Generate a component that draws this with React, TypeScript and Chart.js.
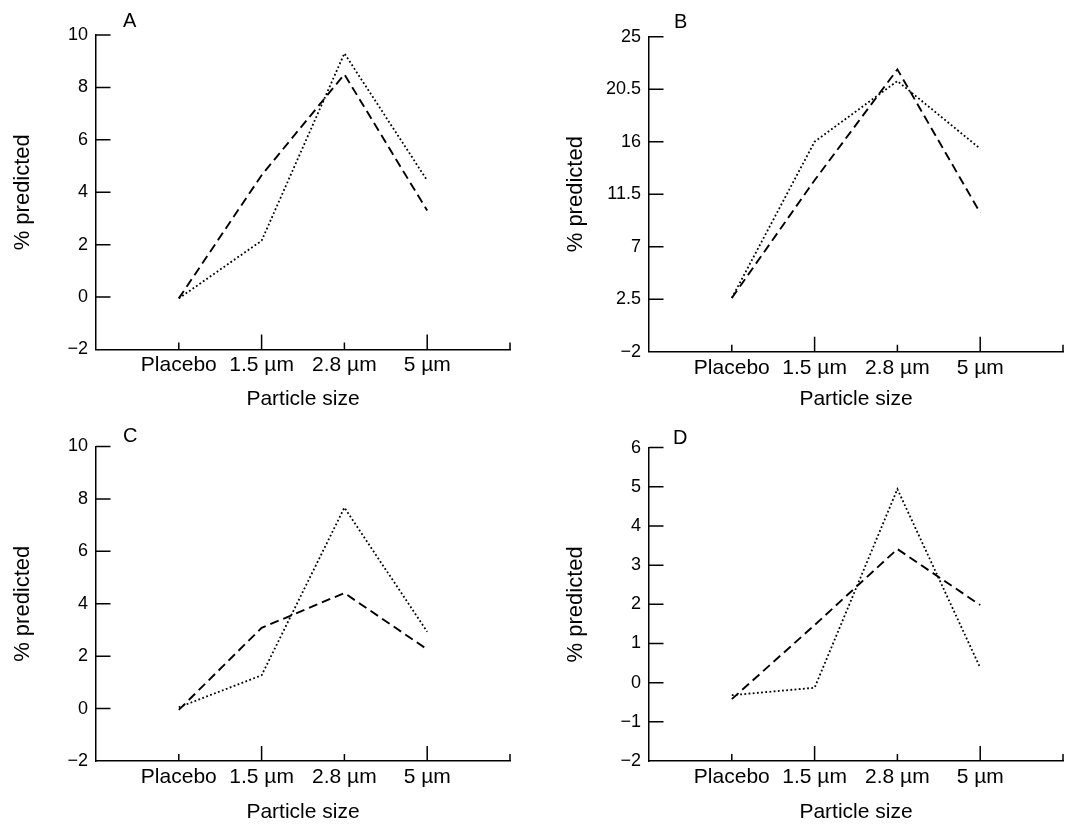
import React, { useEffect, useRef } from 'react';
import { Chart, registerables } from 'chart.js';

Chart.register(...registerables);

// ---- data ----
const categories = ['Placebo', '1.5 µm', '2.8 µm', '5 µm'];
const xPositions = [1, 2, 3, 4];
const xTickValues = [0, 1, 2, 3, 4, 5];

const dashedA = [-0.05, 4.65, 8.5, 3.3];
const dottedA = [-0.05, 2.15, 9.3, 4.45];
const dashedB = [2.6, 12.7, 22.2, 9.9];
const dottedB = [2.6, 16.0, 21.2, 15.4];
const dashedC = [-0.05, 3.08, 4.41, 2.26];
const dottedC = [0.05, 1.27, 7.67, 2.93];
const dashedD = [-0.42, 1.47, 3.41, 1.98];
const dottedD = [-0.32, -0.13, 4.94, 0.38];

const yTicksA = [-2, 0, 2, 4, 6, 8, 10];
const yTicksB = [-2, 2.5, 7, 11.5, 16, 20.5, 25];
const yTicksC = [-2, 0, 2, 4, 6, 8, 10];
const yTicksD = [-2, -1, 0, 1, 2, 3, 4, 5, 6];

const letters = ['A', 'B', 'C', 'D'];
const yTitle = '% predicted';
const xTitle = 'Particle size';

// ---- styling / layout ----
const INK = '#000';
const FONT = '"Liberation Sans", Arial, Helvetica, sans-serif';

type PanelCfg = {
  letter: string;
  dashed: number[];
  dotted: number[];
  yTicks: number[];
  left: number;
  top: number;
  w: number;
  h: number;
  padTop: number;
  axisH: number;
  dx: number;
  dy: number;
};

const panels: PanelCfg[] = [
  { letter: letters[0], dashed: dashedA, dotted: dottedA, yTicks: yTicksA, left: 0, top: 0, w: 515, h: 412, padTop: 35, axisH: 62.5, dx: 27, dy: -8 },
  { letter: letters[1], dashed: dashedB, dotted: dottedB, yTicks: yTicksB, left: 553, top: 0, w: 515, h: 412, padTop: 36.7, axisH: 60.3, dx: 25, dy: -8.7 },
  { letter: letters[2], dashed: dashedC, dotted: dottedC, yTicks: yTicksC, left: 0, top: 412, w: 515, h: 413, padTop: 34.5, axisH: 64, dx: 27, dy: -4.5 },
  { letter: letters[3], dashed: dashedD, dotted: dottedD, yTicks: yTicksD, left: 553, top: 412, w: 515, h: 413, padTop: 35.6, axisH: 64, dx: 24, dy: -4 },
];

const fmt = (v: number) => (v < 0 ? '\u2212' + String(Math.abs(v)) : String(v));

const marksPlugin = {
  id: 'panelMarks',
  afterDraw(chart: any, _args: any, opts: any) {
    const { ctx, chartArea, scales } = chart;
    const xs = scales.x;
    const ys = scales.y;
    ctx.save();
    ctx.strokeStyle = INK;
    ctx.lineWidth = 1.5;
    ctx.beginPath();
    ys.ticks.forEach((t: any) => {
      if (t.value === ys.min) return;
      const py = ys.getPixelForValue(t.value);
      ctx.moveTo(chartArea.left, py);
      ctx.lineTo(chartArea.left + 14.5, py);
    });
    xs.ticks.forEach((t: any) => {
      if (t.value === xs.min) return;
      const px = xs.getPixelForValue(t.value);
      const len = t.value % 2 === 0 ? 15 : 7;
      ctx.moveTo(px, chartArea.bottom);
      ctx.lineTo(px, chartArea.bottom - len);
    });
    ctx.stroke();
    ctx.fillStyle = INK;
    ctx.font = '20px ' + FONT;
    ctx.textAlign = 'left';
    ctx.textBaseline = 'alphabetic';
    ctx.fillText(opts.letter, chartArea.left + opts.dx, chartArea.top + opts.dy);
    ctx.restore();
  },
};

function Panel({ cfg }: { cfg: PanelCfg }) {
  const ref = useRef<HTMLCanvasElement>(null);
  useEffect(() => {
    if (!ref.current) return;
    const toPoints = (vals: number[]) => xPositions.map((x, i) => ({ x, y: vals[i] }));
    const chart = new Chart(ref.current, {
      type: 'line',
      data: {
        datasets: [
          {
            data: toPoints(cfg.dashed),
            borderColor: INK,
            borderWidth: 1.9,
            borderDash: [9, 5],
            pointRadius: 0,
            tension: 0,
            fill: false,
          },
          {
            data: toPoints(cfg.dotted),
            borderColor: INK,
            borderWidth: 1.8,
            borderDash: [1.8, 2.4],
            pointRadius: 0,
            tension: 0,
            fill: false,
          },
        ],
      },
      options: {
        responsive: false,
        animation: false,
        events: [],
        layout: { padding: { top: cfg.padTop, right: 5, left: 0, bottom: 0 } },
        plugins: {
          legend: { display: false },
          tooltip: { enabled: false },
          title: { display: false },
          panelMarks: { letter: cfg.letter, dx: cfg.dx, dy: cfg.dy },
        } as any,
        scales: {
          x: {
            type: 'linear',
            min: 0,
            max: 5,
            grid: { drawOnChartArea: false, drawTicks: false },
            border: { display: true, color: INK, width: 1.5 },
            afterBuildTicks: (scale: any) => {
              scale.ticks = xTickValues.map((v) => ({ value: v }));
            },
            afterFit: (scale: any) => {
              scale.height = cfg.axisH;
            },
            ticks: {
              autoSkip: false,
              maxRotation: 0,
              minRotation: 0,
              padding: 3.5,
              color: INK,
              font: { family: FONT, size: 21 },
              callback: (v: any) => {
                const i = xPositions.indexOf(Number(v));
                return i >= 0 ? categories[i] : '';
              },
            },
            title: {
              display: true,
              text: xTitle,
              color: INK,
              font: { family: FONT, size: 21 },
              padding: { top: 0, bottom: 0 },
            },
          },
          y: {
            type: 'linear',
            min: cfg.yTicks[0],
            max: cfg.yTicks[cfg.yTicks.length - 1],
            grid: { drawOnChartArea: false, drawTicks: false },
            border: { display: true, color: INK, width: 1.5 },
            afterBuildTicks: (scale: any) => {
              scale.ticks = cfg.yTicks.map((v) => ({ value: v }));
            },
            afterFit: (scale: any) => {
              scale.width = 96;
            },
            ticks: {
              autoSkip: false,
              padding: 8,
              color: INK,
              font: { family: FONT, size: 18 },
              callback: (v: any) => fmt(Number(v)),
            },
            title: {
              display: true,
              text: yTitle,
              color: INK,
              font: { family: FONT, size: 22 },
              padding: { top: 10, bottom: 0 },
            },
          },
        },
      },
      plugins: [marksPlugin as any],
    });
    return () => chart.destroy();
  }, [cfg]);
  return (
    <canvas
      ref={ref}
      width={cfg.w}
      height={cfg.h}
      style={{ position: 'absolute', left: cfg.left, top: cfg.top, width: cfg.w, height: cfg.h }}
    />
  );
}

export default function App() {
  return (
    <div style={{ position: 'absolute', left: 0, top: 0, width: 1068, height: 825, background: '#fff', overflow: 'hidden' }}>
      {panels.map((p) => (
        <Panel key={p.letter} cfg={p} />
      ))}
    </div>
  );
}
